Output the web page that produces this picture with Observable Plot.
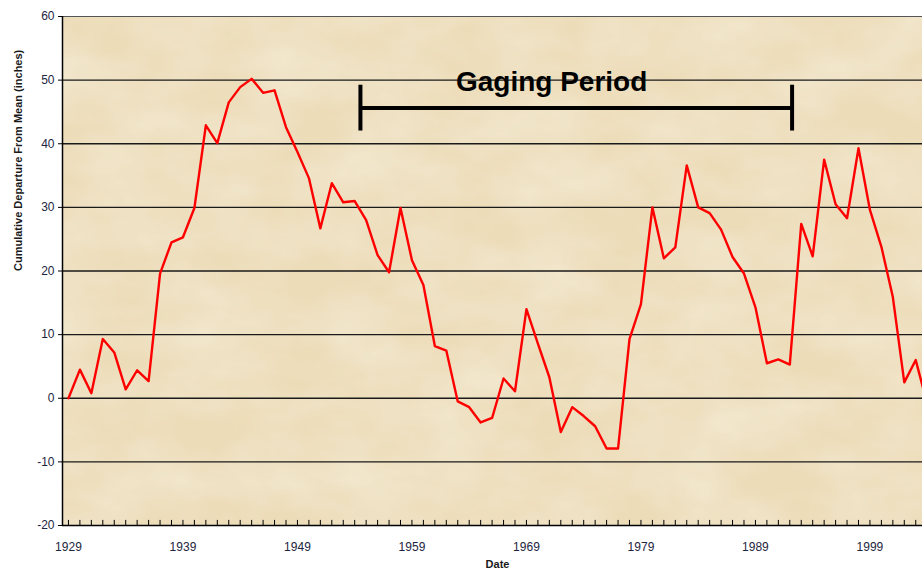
<!DOCTYPE html>
<html>
<head>
<meta charset="utf-8">
<script src="https://cdn.jsdelivr.net/npm/d3@7"></script>
<script src="https://cdn.jsdelivr.net/npm/@observablehq/plot@0.6"></script>
<style>
  html, body { margin: 0; padding: 0; background: #fff; }
  #chart svg { display: block; }
</style>
</head>
<body>
<div id="chart"></div>
<script>
const years = d3.range(1929, 2005);
const departure = [
  0, 4.5, 0.8, 9.3, 7.2, 1.4, 4.4, 2.7, 19.6, 24.5,
  25.3, 29.9, 42.9, 40.1, 46.5, 48.9, 50.2, 48.0, 48.4, 42.6,
  38.7, 34.6, 26.7, 33.8, 30.8, 31.0, 28.0, 22.5, 19.8, 29.9,
  21.7, 17.8, 8.2, 7.5, -0.5, -1.4, -3.8, -3.1, 3.1, 1.1,
  14.0, 8.6, 3.3, -5.3, -1.4, -2.8, -4.4, -7.9, -7.9, 9.3,
  14.8, 30.0, 22.0, 23.7, 36.6, 30.0, 29.1, 26.5, 22.2, 19.6,
  14.3, 5.5, 6.1, 5.3, 27.4, 22.3, 37.5, 30.5, 28.3, 39.3,
  29.6, 23.8, 15.9, 2.5, 6.0, -0.9
];
const yTicks = [-20, -10, 0, 10, 20, 30, 40, 50, 60];
const gridValues = [-10, 0, 10, 20, 30, 40, 50];
const xTickLabels = [1929, 1939, 1949, 1959, 1969, 1979, 1989, 1999];
const gaging = {start: 1954.5, end: 1992.2, level: 45.6, tickLow: 42.0, tickHigh: 49.2, labelYear: 1971.2, labelLevel: 48.3};
const gagingLabel = "Gaging Period";
const yLabel = "Cumulative Departure From Mean (inches)";
const xLabel = "Date";

const data = years.map((y, i) => ({year: y, value: departure[i]}));

const font = "Liberation Sans, Arial, Helvetica, sans-serif";
const xStart = 1928.48, xEnd = 2003.59;

const chart = Plot.plot({
  width: 922,
  height: 572,
  marginLeft: 62,
  marginRight: 0,
  marginTop: 16,
  marginBottom: 47,
  style: {fontFamily: font, background: "#fff", overflow: "visible"},
  x: {domain: [xStart, xEnd]},
  y: {domain: [-20, 60]},
  marks: [
    Plot.frame({fill: "#ecdcb8", stroke: null}),
    Plot.ruleY([60], {stroke: "#555", strokeWidth: 1.2}),
    Plot.ruleY(gridValues, {stroke: "#1a1a1a", strokeWidth: 1.3}),
    Plot.line(data, {x: "year", y: "value", stroke: "#ff0000", strokeWidth: 2.4, clip: true}),
    Plot.ruleY([gaging.level], {x1: gaging.start, x2: gaging.end, stroke: "#000", strokeWidth: 4}),
    Plot.ruleX([gaging.start, gaging.end], {y1: gaging.tickLow, y2: gaging.tickHigh, stroke: "#000", strokeWidth: 4}),
    Plot.text([gagingLabel], {x: gaging.labelYear, y: gaging.labelLevel, text: d => d, fontSize: 28, fontWeight: "bold", fill: "#000", lineAnchor: "bottom", textAnchor: "middle"}),
    Plot.ruleX(years.filter(y => y <= 2003), {x: d => d, y1: -20, y2: -19.2, stroke: "#000", strokeWidth: 1}),
    Plot.ruleY([-20], {stroke: "#000", strokeWidth: 1.5}),
    Plot.ruleX([xStart], {y1: -20, y2: 60, stroke: "#000", strokeWidth: 1.5}),
    Plot.axisY({ticks: yTicks, tickSize: 4, tickPadding: 4, fontSize: 12, fill: "#1d2540", label: null, tickFormat: d => String(d)}),
    Plot.axisX({ticks: xTickLabels, tickSize: 0, tickPadding: 17, fontSize: 12, fill: "#1d2540", label: null, tickFormat: d => String(d)}),
    Plot.text([yLabel], {frameAnchor: "left", rotate: -90, dx: -44, text: d => d, fontSize: 11, fontWeight: "bold", fill: "#1a1a1a"}),
    Plot.text([xLabel], {frameAnchor: "bottom", dx: 5, dy: 42, text: d => d, fontSize: 11, fontWeight: "bold", fill: "#1a1a1a"})
  ]
});

// parchment-like texture on the plotting area
const svg = d3.select(chart);
const defs = svg.insert("defs", ":first-child");
const filt = defs.append("filter").attr("id", "parch").attr("x", 0).attr("y", 0).attr("width", 1).attr("height", 1);
filt.append("feTurbulence").attr("type", "fractalNoise").attr("baseFrequency", "0.012 0.02").attr("numOctaves", 4).attr("seed", 3).attr("result", "noise");
filt.append("feColorMatrix").attr("in", "noise").attr("type", "matrix")
  .attr("values", "0 0 0 0 0.93  0 0 0 0 0.86  0 0 0 0 0.72  0.9 0 0 0 -0.25").attr("result", "tint");
filt.append("feComposite").attr("in", "tint").attr("in2", "SourceGraphic").attr("operator", "over");
svg.select("g[aria-label=frame] rect, rect[aria-label=frame]").attr("filter", "url(#parch)");

document.getElementById("chart").appendChild(chart);
</script>
</body>
</html>
